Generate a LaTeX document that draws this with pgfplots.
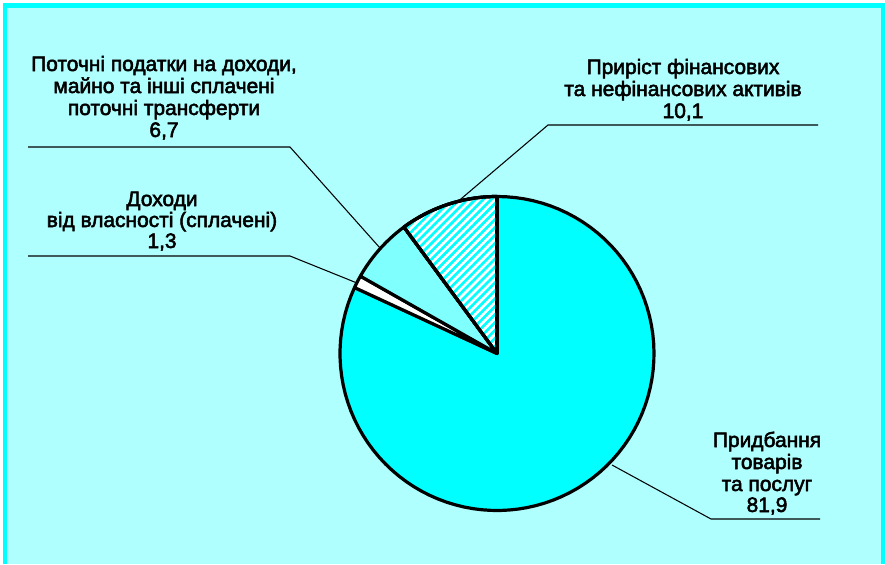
\documentclass[border=0pt]{standalone}
\usepackage{pgfplots}
\pgfplotsset{compat=1.18}
\usepackage{fontspec}
\setmainfont{Liberation Sans}[BoldFont={Liberation Sans}, BoldFeatures={FakeBold=2.5}]
\usetikzlibrary{patterns.meta}
\definecolor{bgc}{RGB}{176,255,255}
\definecolor{frc}{RGB}{0,255,255}
\definecolor{lc}{RGB}{128,255,255}
\begin{document}
\begin{tikzpicture}[lbl/.style={anchor=base, inner sep=0pt, font=\fontsize{15.7}{18}\selectfont\bfseries}]
% shares (%), clockwise from 12 o'clock
\def\vA{81.9}% Придбання товарів та послуг
\def\vB{1.3}% Доходи від власності
\def\vC{6.7}% Поточні податки
\def\vD{10.1}% Приріст активів
\pgfmathsetmacro\aD{90+3.6*\vD}
\pgfmathsetmacro\aC{\aD+3.6*\vC}
\pgfmathsetmacro\aB{\aC+3.6*\vB}
\pgfmathsetmacro\aA{\aB+3.6*\vA}
\begin{axis}[
 width=663.75pt, height=423pt, scale only axis,
 xmin=0, xmax=885, ymin=0, ymax=564, y dir=reverse,
 hide axis, clip=false,
]
\fill[white] (0,0) rectangle (885,564);
\fill[frc] (3,3) rectangle (885,564);
\fill[bgc] (7,8) rectangle (881,564);
\pgfplotsset{pie/.style={draw=black, line width=2.4pt, line join=round, samples=90, variable=\t}}
\addplot[pie, fill=frc, domain=\aB:\aA] ({497+157*cos(\t)},{353.5-157*sin(\t)}) -- (497,353.5) -- cycle;
\addplot[pie, fill=white, domain=\aC:\aB] ({497+157*cos(\t)},{353.5-157*sin(\t)}) -- (497,353.5) -- cycle;
\addplot[pie, fill=lc, domain=\aD:\aC] ({497+157*cos(\t)},{353.5-157*sin(\t)}) -- (497,353.5) -- cycle;
\addplot[pie, fill=white, postaction={pattern={Lines[angle=45,distance=4.2pt,line width=2pt]}, pattern color=frc}, domain=90:\aD] ({497+157*cos(\t)},{353.5-157*sin(\t)}) -- (497,353.5) -- cycle;
\addplot[pie, fill=none, domain=90:\aD] ({497+157*cos(\t)},{353.5-157*sin(\t)}) -- (497,353.5) -- cycle;
% leader lines
\draw[line width=0.8pt] (28,147) -- (290,147) -- (380,248);
\draw[line width=0.8pt] (28,256) -- (290,256) -- (357,283);
\draw[line width=0.8pt] (818,125) -- (548,125) -- (455,204);
\draw[line width=0.8pt] (820,519) -- (711,519) -- (612,465);
% labels
\node[lbl] at (164,71) {Поточні податки на доходи,};
\node[lbl] at (164,93) {майно та інші сплачені};
\node[lbl] at (164,115) {поточні трансферти};
\node[lbl] at (164,137) {6,7};
\node[lbl] at (162,206) {Доходи};
\node[lbl] at (162,227) {від власності (сплачені)};
\node[lbl] at (162,248) {1,3};
\node[lbl] at (683,74) {Приріст фінансових};
\node[lbl] at (683,96) {та нефінансових активів};
\node[lbl] at (683,118) {10,1};
\node[lbl] at (767,447) {Придбання};
\node[lbl] at (767,469) {товарів};
\node[lbl] at (767,491) {та послуг};
\node[lbl] at (767,512) {81,9};
\end{axis}
\end{tikzpicture}
\end{document}
